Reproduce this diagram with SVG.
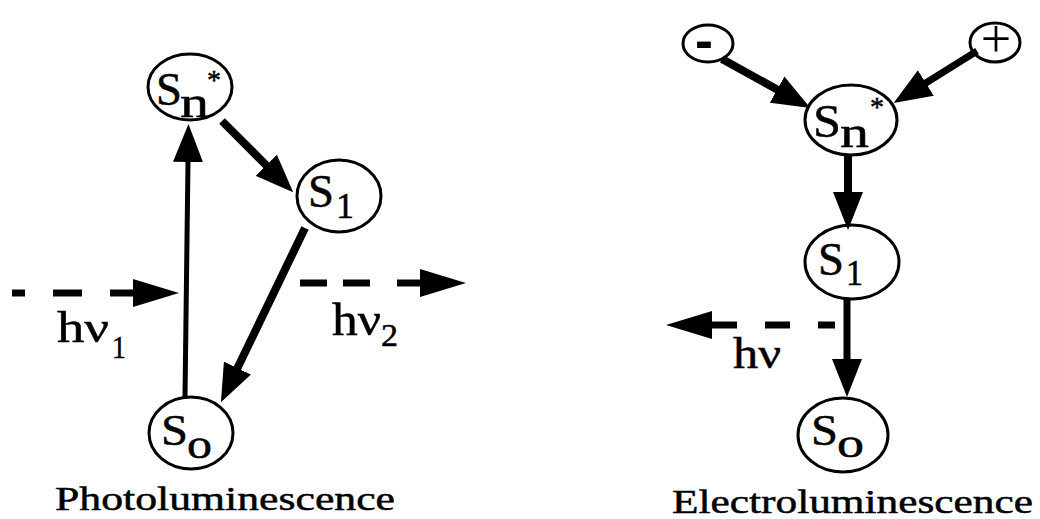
<svg xmlns="http://www.w3.org/2000/svg" width="1040" height="519" viewBox="0 0 1040 519">
<style>
.node{fill:#fff;stroke:#000;stroke-width:3}
.t{font-family:"Liberation Serif","Times New Roman",serif;fill:#000;stroke:#000;stroke-width:0.5}
.ln{stroke:#000;fill:none}
.dash{stroke:#000;fill:none;stroke-width:7}
</style>
<defs>
<marker id="ah" markerUnits="userSpaceOnUse" markerWidth="38" markerHeight="30" viewBox="0 0 38 30" refX="1" refY="15" orient="auto">
<path d="M0,0 L38,15 L0,30 z" fill="#000"/>
</marker>
<marker id="ahL" markerUnits="userSpaceOnUse" markerWidth="46" markerHeight="28" viewBox="0 0 46 28" refX="1" refY="14" orient="auto">
<path d="M0,0 L46,14 L0,28 z" fill="#000"/>
</marker>
</defs>
<rect width="1040" height="519" fill="#fff"/>

<g id="pl-sn">
<ellipse class="node" cx="190" cy="87" rx="42" ry="33"/>
<text class="t"><tspan x="156" y="105" font-size="47" textLength="26" lengthAdjust="spacingAndGlyphs">S</tspan><tspan x="180" y="117" font-size="44" textLength="29" lengthAdjust="spacingAndGlyphs">n</tspan><tspan x="207" y="89" font-size="28">*</tspan></text>
</g>
<g id="pl-s1">
<ellipse class="node" cx="339" cy="196" rx="42" ry="36"/>
<text class="t"><tspan x="308" y="207" font-size="46" textLength="26" lengthAdjust="spacingAndGlyphs">S</tspan><tspan x="336" y="218" font-size="35" textLength="18" lengthAdjust="spacingAndGlyphs">1</tspan></text>
</g>
<g id="pl-s0">
<ellipse class="node" cx="191" cy="433" rx="42" ry="36"/>
<text class="t"><tspan x="161" y="445" font-size="45" textLength="27" lengthAdjust="spacingAndGlyphs">S</tspan><tspan x="187" y="458" font-size="41" textLength="25" lengthAdjust="spacingAndGlyphs">o</tspan></text>
</g>

<g id="el-minus">
<ellipse class="node" cx="708" cy="43.5" rx="25" ry="18.5"/>
<text x="704" y="59" font-family="Liberation Sans, Arial, sans-serif" font-weight="bold" font-size="54" text-anchor="middle" textLength="18" lengthAdjust="spacingAndGlyphs">-</text>
</g>
<g id="el-plus">
<ellipse class="node" cx="995" cy="42.5" rx="25" ry="19.5"/>
<text x="996" y="57" font-family="Liberation Serif, serif" font-size="54" text-anchor="middle">+</text>
</g>
<g id="el-sn">
<ellipse class="node" cx="851" cy="120" rx="46" ry="35"/>
<text class="t"><tspan x="813" y="137" font-size="47" textLength="28" lengthAdjust="spacingAndGlyphs">S</tspan><tspan x="840" y="147" font-size="44" textLength="29" lengthAdjust="spacingAndGlyphs">n</tspan><tspan x="870" y="116" font-size="28">*</tspan></text>
</g>
<g id="el-s1">
<ellipse class="node" cx="852" cy="262" rx="47" ry="37"/>
<text class="t"><tspan x="818" y="275" font-size="47" textLength="26" lengthAdjust="spacingAndGlyphs">S</tspan><tspan x="846" y="285" font-size="35" textLength="17" lengthAdjust="spacingAndGlyphs">1</tspan></text>
</g>
<g id="el-s0">
<ellipse class="node" cx="843" cy="435" rx="45" ry="37"/>
<text class="t"><tspan x="811" y="445" font-size="45" textLength="27" lengthAdjust="spacingAndGlyphs">S</tspan><tspan x="837" y="457" font-size="41" textLength="27" lengthAdjust="spacingAndGlyphs">o</tspan></text>
</g>

<g id="connectors">
<line class="ln" stroke-width="5" x1="185" y1="397" x2="188" y2="161" marker-end="url(#ah)"/>
<line class="ln" stroke-width="8" x1="222" y1="121" x2="267" y2="166" marker-end="url(#ah)"/>
<line class="ln" stroke-width="8" x1="305" y1="228" x2="237" y2="369" marker-end="url(#ah)"/>
<line class="dash" x1="12" y1="293" x2="134" y2="293" stroke-dasharray="13 28 29 28 24" marker-end="url(#ahL)"/>
<line class="dash" x1="300" y1="283" x2="421" y2="283" stroke-dasharray="27 16 27 27 24" marker-end="url(#ahL)"/>
<line class="ln" stroke-width="8" x1="722" y1="59" x2="778" y2="90" marker-end="url(#ah)"/>
<line class="ln" stroke-width="7" x1="977" y1="51" x2="925" y2="83.5" marker-end="url(#ah)"/>
<line class="ln" stroke-width="8" x1="848" y1="155" x2="848" y2="193" marker-end="url(#ah)"/>
<line class="ln" stroke-width="7" x1="847" y1="299" x2="847" y2="360" marker-end="url(#ah)"/>
<line class="dash" x1="835" y1="325" x2="711" y2="325" stroke-dasharray="17 28 25 28 30" marker-end="url(#ahL)"/>
</g>

<g id="labels">
<text class="t"><tspan x="57" y="342" font-size="44" textLength="52" lengthAdjust="spacingAndGlyphs">hν</tspan><tspan x="112" y="358" font-size="31" textLength="14" lengthAdjust="spacingAndGlyphs">1</tspan></text>
<text class="t"><tspan x="332" y="335" font-size="46" textLength="49" lengthAdjust="spacingAndGlyphs">hν</tspan><tspan x="381" y="346" font-size="31" textLength="17" lengthAdjust="spacingAndGlyphs">2</tspan></text>
<text class="t" x="733" y="368" font-size="45" textLength="48" lengthAdjust="spacingAndGlyphs">hν</text>
<text class="t" x="55" y="510" font-size="34" textLength="340" lengthAdjust="spacingAndGlyphs">Photoluminescence</text>
<text class="t" x="672" y="513" font-size="34" textLength="361" lengthAdjust="spacingAndGlyphs">Electroluminescence</text>
</g>
</svg>
